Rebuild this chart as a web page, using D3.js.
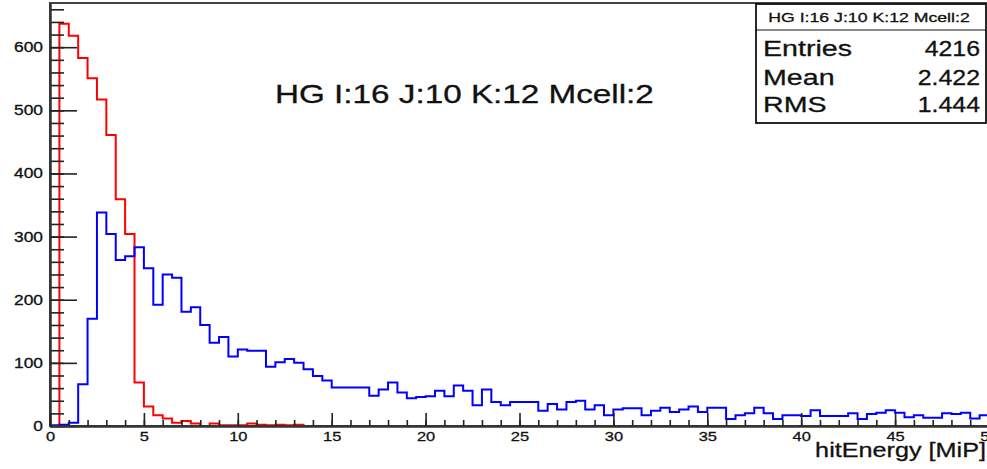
<!DOCTYPE html>
<html>
<head>
<meta charset="utf-8">
<script src="https://cdn.jsdelivr.net/npm/d3@7"></script>
<style>
  html, body { margin: 0; padding: 0; background: #fff; overflow: hidden; }
  svg { display: block; font-family: "Liberation Sans", Arial, Helvetica, sans-serif; }
  svg text { stroke: #111; stroke-width: 0.3px; paint-order: stroke; }
</style>
</head>
<body>
<svg id="chart" width="987" height="469"></svg>
<script>
// ---- histogram data: 100 bins of 0.5 MiP from 0 to 50 ----
const binWidth = 0.5;
const xDomain = [0, 50];
const yDomainMax = 670;

// red: hit energy spectrum (the one summarised in the stats box)
const redCounts = [
  0, 637, 618, 583, 551, 517, 461, 359, 304, 69,
  31, 17, 12, 5, 8, 4, 0, 4, 1, 1,
  1, 4, 2, 1, 2, 1, 2, 0, 0, 0,
  0, 0, 0, 0, 0, 0, 0, 0, 0, 0,
  0, 0, 0, 0, 0, 0, 0, 0, 0, 0,
  0, 0, 0, 0, 0, 0, 0, 0, 0, 0,
  0, 0, 0, 0, 0, 0, 0, 0, 0, 0,
  0, 0, 0, 0, 0, 0, 0, 0, 0, 0,
  0, 0, 0, 0, 0, 0, 0, 0, 0, 0,
  0, 0, 0, 0, 0, 0, 0, 0, 0, 0
];

// blue: comparison spectrum
const blueCounts = [
  1, 2, 5, 66, 170, 338, 304, 263, 269, 283,
  250, 192, 240, 235, 181, 188, 160, 132, 141, 110,
  121, 119, 119, 94, 101, 106, 100, 90, 79, 72,
  61, 61, 61, 61, 48, 58, 69, 53, 44, 46,
  47, 56, 47, 64, 56, 33, 58, 38, 33, 38,
  38, 38, 24, 35, 26, 38, 40, 26, 33, 17,
  26, 28, 28, 17, 24, 29, 22, 26, 31, 22,
  29, 29, 11, 17, 20, 29, 20, 11, 17, 17,
  16, 25, 16, 16, 16, 20, 11, 19, 21, 25,
  21, 14, 17, 13, 13, 20, 19, 21, 12, 17
];

const yMajorTicks = [0, 100, 200, 300, 400, 500, 600];
const xMajorTicks = [0, 5, 10, 15, 20, 25, 30, 35, 40, 45, 50];
const plotTitle = "HG I:16 J:10 K:12 Mcell:2";
const statsHeader = "HG I:16 J:10 K:12 Mcell:2";
const statsNames = ["Entries", "Mean", "RMS"];
const statsValues = ["4216", "2.422", "1.444"];
const xAxisTitle = "hitEnergy [MiP]";

// ---- layout ----
const svg = d3.select("#chart");
const frame = { left: 50, right: 989, top: 3, bottom: 426 };

const x = d3.scaleLinear().domain(xDomain).range([frame.left, frame.right]);
const y = d3.scaleLinear().domain([0, yDomainMax]).range([frame.bottom, frame.top]);

// widen glyphs horizontally (the canvas is rendered wider than tall)
function widen(sel, k) {
  sel.each(function () {
    const w = this.getComputedTextLength();
    this.setAttribute("textLength", (w * k).toFixed(2));
    this.setAttribute("lengthAdjust", "spacingAndGlyphs");
  });
}

// ---- histograms as step outlines ----
function stepPoints(counts) {
  const pts = [[xDomain[0], 0]];
  counts.forEach((v, i) => pts.push([i * binWidth, v]));
  pts.push([xDomain[1], counts[counts.length - 1]]);
  pts.push([xDomain[1], 0]);
  return pts;
}
const stepLine = d3.line()
  .x(d => x(d[0]))
  .y(d => y(d[1]))
  .curve(d3.curveStepAfter);

svg.append("path")
  .attr("d", stepLine(stepPoints(redCounts)))
  .attr("fill", "none")
  .attr("stroke", "#ff0000")
  .attr("stroke-width", 2);

svg.append("path")
  .attr("d", stepLine(stepPoints(blueCounts)))
  .attr("fill", "none")
  .attr("stroke", "#0000ff")
  .attr("stroke-width", 2);

// ---- frame ----
svg.append("rect")
  .attr("x", frame.left).attr("y", frame.top)
  .attr("width", frame.right - frame.left)
  .attr("height", frame.bottom - frame.top)
  .attr("fill", "none")
  .attr("stroke", "#444")
  .attr("stroke-width", 2);

// ---- y axis (ticks point inward) ----
const yMinor = svg.append("g").attr("transform", `translate(${frame.left},0)`)
  .call(d3.axisLeft(y).tickValues(d3.range(0, 661, 20)).tickSize(-14).tickSizeOuter(0).tickFormat(""));
const yMajor = svg.append("g").attr("transform", `translate(${frame.left},0)`)
  .call(d3.axisLeft(y).tickValues(yMajorTicks).tickSize(-27).tickSizeOuter(0).tickPadding(7).tickFormat(d3.format("d")));

// ---- x axis (ticks point upward) ----
const xMinor = svg.append("g").attr("transform", `translate(0,${frame.bottom})`)
  .call(d3.axisBottom(x).tickValues(d3.range(0, 51, 1)).tickSize(-6).tickSizeOuter(0).tickFormat(""));
const xMajor = svg.append("g").attr("transform", `translate(0,${frame.bottom})`)
  .call(d3.axisBottom(x).tickValues(xMajorTicks).tickSize(-13).tickSizeOuter(0).tickPadding(5).tickFormat(d3.format("d")));

[yMinor, yMajor, xMinor, xMajor].forEach(g => {
  g.selectAll("line").attr("stroke", "#222").attr("stroke-width", 1.6);
  g.select(".domain").attr("stroke", "#333").attr("stroke-width", 2);
});

yMajor.selectAll("text")
  .attr("font-size", 14).attr("fill", "#111")
  .attr("font-family", "Liberation Sans, Arial, sans-serif")
  .call(widen, 1.24);
xMajor.selectAll("text")
  .attr("font-size", 13.5).attr("fill", "#111")
  .attr("font-family", "Liberation Sans, Arial, sans-serif")
  .call(widen, 1.22);

// ---- axis title ----
svg.append("text")
  .attr("x", 986).attr("y", 457)
  .attr("text-anchor", "end")
  .attr("font-size", 21).attr("fill", "#111")
  .text(xAxisTitle)
  .call(widen, 1.2);

// ---- plot title ----
svg.append("text")
  .attr("x", 275).attr("y", 103)
  .attr("font-size", 25).attr("fill", "#111")
  .text(plotTitle)
  .call(widen, 1.33);

// ---- statistics box ----
const box = { x: 756, y: 4, w: 230, h: 119, header: 30 };
svg.append("rect")
  .attr("x", box.x).attr("y", box.y).attr("width", box.w).attr("height", box.h)
  .attr("fill", "#fff").attr("stroke", "#111").attr("stroke-width", 1.8);
svg.append("line")
  .attr("x1", box.x).attr("x2", box.x + box.w)
  .attr("y1", box.y + box.header - 4).attr("y2", box.y + box.header - 4)
  .attr("stroke", "#111").attr("stroke-width", 1.2);
svg.append("text")
  .attr("x", 869).attr("y", 22)
  .attr("text-anchor", "middle")
  .attr("font-size", 13).attr("fill", "#111")
  .attr("stroke-width", 0.15)
  .text(statsHeader)
  .call(widen, 1.36);

const rowBaselines = [56, 85, 112];
statsNames.forEach((name, i) => {
  svg.append("text")
    .attr("x", 763).attr("y", rowBaselines[i])
    .attr("font-size", 22).attr("fill", "#111")
    .text(name)
    .call(widen, 1.3);
  svg.append("text")
    .attr("x", 980).attr("y", rowBaselines[i])
    .attr("text-anchor", "end")
    .attr("font-size", 22).attr("fill", "#111")
    .text(statsValues[i])
    .call(widen, 1.13);
});
</script>
</body>
</html>
